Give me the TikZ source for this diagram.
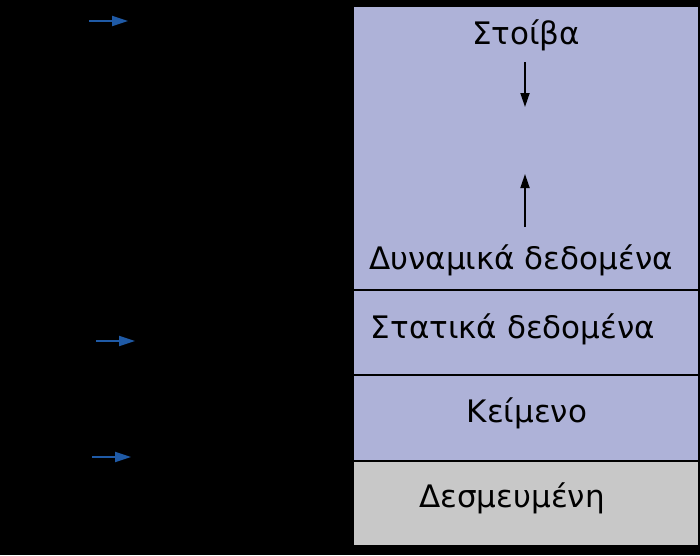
\documentclass[tikz,border=0pt]{standalone}
\usepackage{fontspec}
\setmainfont{DejaVu Sans}
\usetikzlibrary{arrows.meta}
\definecolor{seg}{HTML}{AEB2D8}
\definecolor{res}{HTML}{C8C8C8}
\definecolor{ptr}{HTML}{1F5AA6}
\begin{document}
\begin{tikzpicture}[x=1pt,y=-1pt,
  segbox/.style={draw=black,line width=1.5pt,inner sep=0pt,anchor=north west},
  lbl/.style={font=\fontsize{31}{36}\selectfont,text=black,inner sep=0pt},
  growarrow/.style={line width=1.8pt,-{Triangle[length=14pt,width=9pt]}},
  ptrarrow/.style={ptr,line width=2pt,-{Triangle[length=16pt,width=10pt]}}]
\fill[black] (0,0) rectangle (700,555);
\useasboundingbox (0,0) rectangle (700,555);
\node[segbox,fill=seg,minimum width=346pt,minimum height=284pt] (dyn) at (352,5) {};
\node[segbox,fill=seg,minimum width=346pt,minimum height=85pt] (stat) at (352,289) {};
\node[segbox,fill=seg,minimum width=346pt,minimum height=86pt] (text) at (352,374) {};
\node[segbox,fill=res,minimum width=346pt,minimum height=85pt] (resv) at (352,460) {};
\node[lbl] (stack) at (526,35) {Στοίβα};
\node[lbl] (heap) at (521,260) {Δυναμικά δεδομένα};
\node[lbl] (static) at (513,329) {Στατικά δεδομένα};
\node[lbl] (code) at (527,413) {Κείμενο};
\node[lbl] (reserved) at (512,498) {Δεσμευμένη};
\coordinate (sd) at (525,62);
\coordinate (se) at (525,107);
\coordinate (hd) at (525,227);
\coordinate (he) at (525,174);
\draw[growarrow] (sd) -- (se);
\draw[growarrow] (hd) -- (he);
\coordinate (p1s) at (89,21);
\coordinate (p1e) at (128,21);
\coordinate (p2s) at (96,341);
\coordinate (p2e) at (135,341);
\coordinate (p3s) at (92,457);
\coordinate (p3e) at (131,457);
\draw[ptrarrow] (p1s) -- (p1e);
\draw[ptrarrow] (p2s) -- (p2e);
\draw[ptrarrow] (p3s) -- (p3e);
\end{tikzpicture}
\end{document}
